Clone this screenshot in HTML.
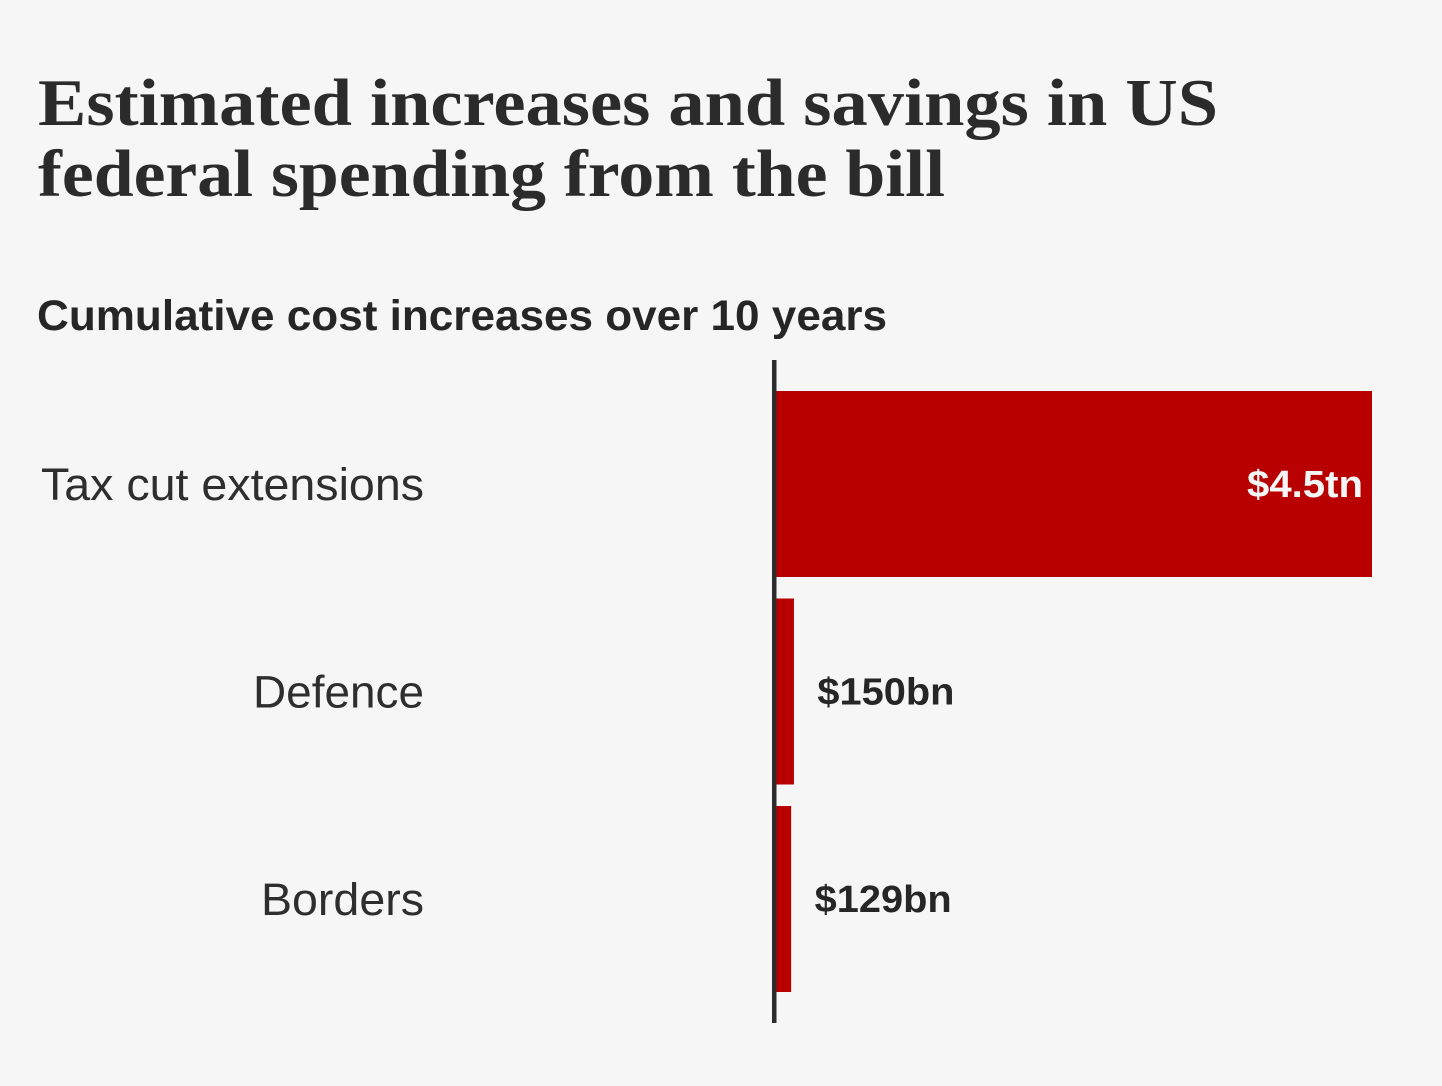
<!DOCTYPE html>
<html lang="en">
<head>
<meta charset="utf-8">
<title>Estimated increases and savings in US federal spending from the bill</title>
<style>
html,body{margin:0;padding:0;background:#f6f6f6;}
body{width:1442px;height:1086px;overflow:hidden;}
svg{display:block;}
.title{font-family:"Liberation Serif",serif;font-weight:700;font-size:67px;fill:#2b2b2b;}
.sub{font-family:"Liberation Sans",sans-serif;font-weight:700;font-size:43px;fill:#262626;}
.cat{font-family:"Liberation Sans",sans-serif;font-size:45px;fill:#2e2e2e;}
.val{font-family:"Liberation Sans",sans-serif;font-weight:700;font-size:38px;fill:#262626;}
</style>
</head>
<body>
<svg id="chart" xmlns="http://www.w3.org/2000/svg" width="1442" height="1086" viewBox="0 0 1442 1086">
  <rect x="0" y="0" width="1442" height="1086" fill="#f6f6f6"/>
  <g>
    <text class="title" x="38" y="125" textLength="1180" lengthAdjust="spacingAndGlyphs">Estimated increases and savings in US</text>
    <text class="title" x="38" y="196" textLength="907" lengthAdjust="spacingAndGlyphs">federal spending from the bill</text>
  </g>
  <text class="sub" x="37" y="330" textLength="850" lengthAdjust="spacingAndGlyphs">Cumulative cost increases over 10 years</text>
  <g id="bars"></g>
  <g id="labels"></g>
  <g id="values"></g>
  <rect x="772" y="360" width="4.5" height="663" fill="#2c2c2c"/>
</svg>
<script>
const categories = ["Tax cut extensions", "Defence", "Borders"];
const costValues = [4500, 150, 129];
const valueLabels = ["$4.5tn", "$150bn", "$129bn"];
const categoryWidths = [383, 171, 163];
const valueWidths = [116, 137, 137];

const NS = "http://www.w3.org/2000/svg";
const domainMax = 4500;
const xZero = 774;
const xFull = 1372;
const bandTop = 391;
const bandStep = 207.5;
const bandHeight = 186;
function xScale(v) { return xZero + (v / domainMax) * (xFull - xZero); }
function yScale(i) { return bandTop + i * bandStep; }

const barsGroup = document.getElementById("bars");
const labelsGroup = document.getElementById("labels");
const valuesGroup = document.getElementById("values");

categories.forEach(function (name, i) {
  const value = costValues[i];
  const endX = xScale(value);
  const y = yScale(i);
  const midY = y + bandHeight / 2;

  const bar = document.createElementNS(NS, "rect");
  bar.setAttribute("x", xZero);
  bar.setAttribute("y", y);
  bar.setAttribute("width", endX - xZero);
  bar.setAttribute("height", bandHeight);
  bar.setAttribute("fill", "#b80000");
  
  
  barsGroup.appendChild(bar);

  const label = document.createElementNS(NS, "text");
  label.setAttribute("class", "cat");
  label.setAttribute("x", 424);
  label.setAttribute("y", midY + 16);
  label.setAttribute("text-anchor", "end");
  label.setAttribute("textLength", categoryWidths[i]);
  label.setAttribute("lengthAdjust", "spacingAndGlyphs");
  label.textContent = name;
  
  
  labelsGroup.appendChild(label);

  const inside = endX - xZero > 300;
  const text = document.createElementNS(NS, "text");
  text.setAttribute("class", "val");
  text.setAttribute("y", midY + 13);
  if (inside) {
    text.setAttribute("x", endX - 9);
    text.setAttribute("text-anchor", "end");
    text.style.fill = "#f6f6f6";
  } else {
    text.setAttribute("x", endX + 23.5);
    text.setAttribute("text-anchor", "start");
  }
  text.setAttribute("textLength", valueWidths[i]);
  text.setAttribute("lengthAdjust", "spacingAndGlyphs");
  text.textContent = valueLabels[i];
  
  
  valuesGroup.appendChild(text);
});
</script>
</body>
</html>
